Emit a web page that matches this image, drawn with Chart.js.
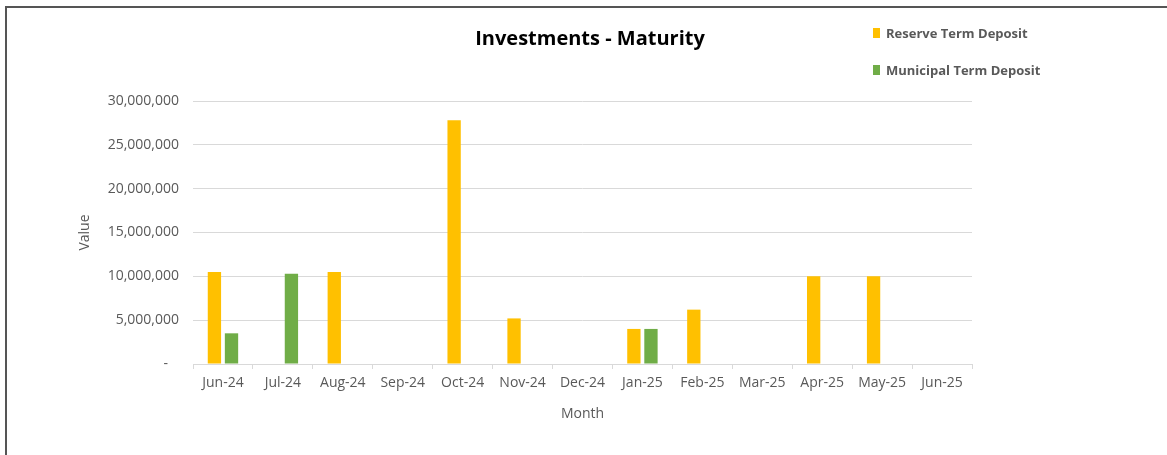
<!DOCTYPE html>
<html>
<head>
<meta charset="utf-8">
<script src="https://cdn.jsdelivr.net/npm/chart.js@4/dist/chart.umd.min.js"></script>
<style>
  body { margin: 0; background: #fff; }
  #wrap { position: relative; width: 1167px; height: 455px; }
  #frame { position: absolute; left: 5px; top: 6px; right: 0; bottom: 0;
           border-top: 2px solid #555; border-left: 2px solid #555; pointer-events: none; }
  #title { position: absolute; left: 390px; width: 400px; top: 24px; text-align: center;
           font: bold 20px "Open Sans", sans-serif; color: #000; }
  .leg { position: absolute; left: 873px; font: bold 13px "Open Sans", sans-serif; color: #595959; }
  .leg span { display: inline-block; width: 7px; height: 10px; margin-right: 6px; }
</style>
</head>
<body>
<div id="wrap">
  <canvas id="myChart" width="1167" height="455"></canvas>
  <div id="frame"></div>
  <div id="title">Investments - Maturity</div>
  <div class="leg" style="top:24px"><span style="background:#FFC000"></span>Reserve Term Deposit</div>
  <div class="leg" style="top:61px"><span style="background:#70AD47"></span>Municipal Term Deposit</div>
</div>
<script>
const months = ['Jun-24','Jul-24','Aug-24','Sep-24','Oct-24','Nov-24','Dec-24','Jan-25','Feb-25','Mar-25','Apr-25','May-25','Jun-25'];
const reserve = [10500000, null, 10500000, null, 27800000, 5200000, null, 4000000, 6200000, null, 10000000, 10000000, null];
const municipal = [3500000, 10300000, null, null, null, null, null, 4000000, null, null, null, null, null];

const tickFont = { family: 'Open Sans', size: 14 };

const renderChart = () => {
    const ctx = document.getElementById('myChart');
    new Chart(ctx, {
        type: 'bar',
        data: {
            labels: months,
            datasets: [{
                label: 'Reserve Term Deposit',
                data: reserve,
                backgroundColor: '#FFC000',
                categoryPercentage: 0.57,
                barPercentage: 0.78
            }, {
                label: 'Municipal Term Deposit',
                data: municipal,
                backgroundColor: '#70AD47',
                categoryPercentage: 0.57,
                barPercentage: 0.78
            }]
        },
        options: {
            responsive: false,
            animation: false,
            layout: { padding: { left: 0, right: 195, top: 101, bottom: 0 } },
            plugins: {
                legend: { display: false },
                tooltip: { enabled: false }
            },
            scales: {
                x: {
                    grid: { drawOnChartArea: false, color: '#d9d9d9', tickLength: 5 },
                    border: { color: '#d9d9d9' },
                    ticks: { font: tickFont, color: '#595959', padding: 6, maxRotation: 0 },
                    title: { display: true, text: 'Month', font: tickFont, color: '#595959', padding: { top: 0, bottom: 33 } },
                    afterFit: (scale) => { scale.height = 91; }
                },
                y: {
                    min: 0,
                    max: 30000000,
                    grid: { color: '#d9d9d9', drawTicks: false },
                    border: { display: false },
                    ticks: {
                        stepSize: 5000000,
                        font: tickFont,
                        color: '#595959',
                        padding: 14,
                        callback: (v) => v === 0 ? '-   ' : v.toLocaleString('en-US')
                    },
                    title: { display: true, text: 'Value', font: tickFont, color: '#595959', padding: { top: 77, bottom: 0 } },
                    afterFit: (scale) => { scale.width = 193; }
                }
            }
        }
    });
};

renderChart();
</script>
</body>
</html>
